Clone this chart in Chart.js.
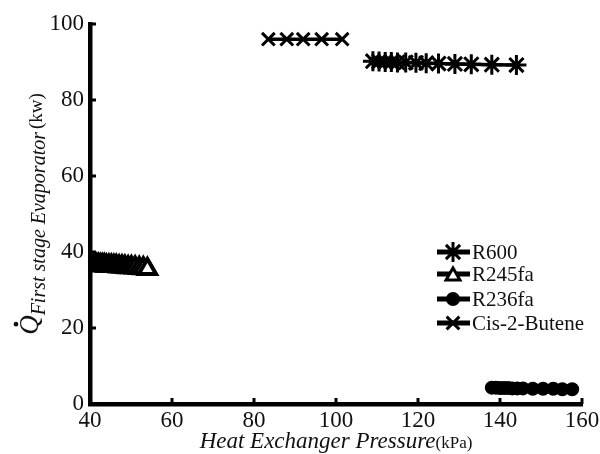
<!DOCTYPE html>
<html>
<head>
<meta charset="utf-8">
<script src="https://cdn.jsdelivr.net/npm/chart.js@4/dist/chart.umd.min.js"></script>
<style>
  html, body { margin: 0; padding: 0; background: #fff; }
  #wrap { width: 600px; height: 454px; }
</style>
</head>
<body>
<div id="wrap"><canvas id="c" width="600" height="454"></canvas></div>
<script>
const X_TICKS = [40, 60, 80, 100, 120, 140, 160];
const Y_TICKS = [0, 20, 40, 60, 80, 100];

const R600_X = [109, 110.5, 112, 113.5, 115, 117, 119.5, 122, 125, 129, 133, 138, 144];
const R600_Y = [90.2, 90.1, 90.0, 90.0, 89.9, 89.9, 89.8, 89.7, 89.6, 89.5, 89.4, 89.3, 89.2];

const R245FA_X = [41, 41.5, 42, 42.5, 43, 43.5, 44, 44.6, 45.2, 45.8, 46.4, 47.1, 47.8, 48.5, 49.3, 50.1, 51, 52, 53, 54];
const R245FA_Y = [36.6, 36.6, 36.6, 36.5, 36.5, 36.5, 36.4, 36.4, 36.4, 36.3, 36.3, 36.2, 36.2, 36.1, 36.0, 36.0, 35.9, 35.8, 35.7, 35.5];

const R236FA_X = [138, 139, 140, 141, 142, 143, 144.2, 145.6, 148, 150.5, 153, 155.2, 157.6];
const R236FA_Y = [4.3, 4.3, 4.2, 4.2, 4.2, 4.1, 4.1, 4.1, 4.0, 4.0, 4.0, 3.9, 3.9];

const CIS_X = [83.5, 88, 92, 96.5, 101.5];
const CIS_Y = [96.0, 96.0, 96.0, 96.0, 96.0];

const SERIES = [
  { label: 'R600',         xs: R600_X,   ys: R600_Y,   style: 'star',     radius: 10 },
  { label: 'R245fa',       xs: R245FA_X, ys: R245FA_Y, style: 'triangle', radius: 10 },
  { label: 'R236fa',       xs: R236FA_X, ys: R236FA_Y, style: 'circle',   radius: 5.5 },
  { label: 'Cis-2-Butene', xs: CIS_X,    ys: CIS_Y,    style: 'crossRot', radius: 9 },
];

const SERIF = '"Liberation Serif", "DejaVu Serif", serif';

// inward tick marks, axis titles and the inset legend
const decorPlugin = {
  id: 'decor',
  afterDraw(chart) {
    const { ctx, chartArea, scales } = chart;
    const xs = scales.x, ys = scales.y;
    ctx.save();
    ctx.strokeStyle = '#000';
    ctx.lineWidth = 3;
    X_TICKS.forEach(v => {
      const px = xs.getPixelForValue(v);
      ctx.beginPath();
      ctx.moveTo(px, chartArea.bottom);
      ctx.lineTo(px, chartArea.bottom - 6);
      ctx.stroke();
    });
    Y_TICKS.forEach(v => {
      const py = ys.getPixelForValue(v);
      ctx.beginPath();
      ctx.moveTo(chartArea.left, py);
      ctx.lineTo(chartArea.left + 6, py);
      ctx.stroke();
    });

    // x title: italic part + small (kPa)
    ctx.fillStyle = '#111';
    ctx.textBaseline = 'alphabetic';
    const t1 = 'Heat Exchanger Pressure';
    const t2 = '(kPa)';
    ctx.font = 'italic 23px ' + SERIF;
    const w1 = ctx.measureText(t1).width;
    ctx.font = '17px ' + SERIF;
    const w2 = ctx.measureText(t2).width;
    let sx = 336 - (w1 + w2) / 2;
    ctx.font = 'italic 23px ' + SERIF;
    ctx.fillText(t1, sx, 448);
    ctx.font = '17px ' + SERIF;
    ctx.fillText(t2, sx + w1, 448);

    // y title, rotated
    ctx.save();
    ctx.translate(38, 214);
    ctx.rotate(-Math.PI / 2);
    const q = 'Q';
    const sub = 'First stage Evaporator';
    const unit = '(kw)';
    ctx.font = 'italic 27px ' + SERIF;
    const wq = ctx.measureText(q).width;
    ctx.font = 'italic 20px ' + SERIF;
    const ws = ctx.measureText(sub).width;
    ctx.font = '19px ' + SERIF;
    const wu = ctx.measureText(unit).width;
    let p = -(wq + ws + wu + 3) / 2;
    ctx.font = 'italic 27px ' + SERIF;
    ctx.fillText(q, p, 0);
    // dot over Q
    ctx.beginPath();
    ctx.arc(p + wq * 0.55, -22, 2.3, 0, Math.PI * 2);
    ctx.fill();
    p += wq;
    ctx.font = 'italic 20px ' + SERIF;
    ctx.fillText(sub, p, 7);
    p += ws + 3;
    ctx.font = '19px ' + SERIF;
    ctx.fillText(unit, p, 4);
    ctx.restore();

    // legend
    const rows = [252, 274, 299, 323];
    SERIES.forEach((s, i) => {
      const y = rows[i];
      ctx.strokeStyle = '#000';
      ctx.lineWidth = 5;
      ctx.beginPath();
      ctx.moveTo(437, y);
      ctx.lineTo(470, y);
      ctx.stroke();
      ctx.fillStyle = s.style === 'triangle' ? '#fff' : '#000';
      ctx.lineWidth = 3;
      const r = s.style === 'triangle' ? 8 : s.radius;
      Chart.helpers.drawPoint(ctx, { pointStyle: s.style, radius: r, rotation: 0, borderWidth: 3 }, 453, s.style === 'triangle' ? y + 2 : y);
      ctx.fillStyle = '#111';
      ctx.font = '21px ' + SERIF;
      ctx.textBaseline = 'middle';
      ctx.fillText(s.label, 472, y + 1);
    });
    ctx.restore();
  },
};

new Chart(document.getElementById('c'), {
  type: 'scatter',
  data: {
    datasets: SERIES.map(s => ({
      label: s.label,
      data: s.xs.map((x, i) => ({ x, y: s.ys[i] })),
      showLine: true,
      borderColor: '#000',
      borderWidth: 3.5,
      pointStyle: s.style,
      pointRadius: s.radius,
      pointBorderWidth: s.style === 'triangle' ? 4 : 3,
      pointBorderColor: '#000',
      pointBackgroundColor: s.style === 'triangle' ? '#fff' : '#000',
    })),
  },
  options: {
    responsive: false,
    animation: false,
    layout: { padding: { top: 24, right: 18, left: 0, bottom: 0 } },
    plugins: { legend: { display: false }, tooltip: { enabled: false } },
    scales: {
      x: {
        type: 'linear',
        min: 40, max: 160,
        afterFit: s => { s.height = 50; },
        afterBuildTicks: s => { s.ticks = X_TICKS.map(v => ({ value: v })); },
        ticks: { color: '#111', font: { family: SERIF, size: 23 }, padding: -5, maxRotation: 0 },
        grid: { display: false },
        border: { display: true, color: '#000', width: 4.5 },
      },
      y: {
        type: 'linear',
        min: 0, max: 100,
        afterFit: s => { s.width = 90; },
        afterBuildTicks: s => { s.ticks = Y_TICKS.map(v => ({ value: v })); },
        ticks: { color: '#111', font: { family: SERIF, size: 23 }, padding: -2 },
        grid: { display: false },
        border: { display: true, color: '#000', width: 4.5 },
      },
    },
  },
  plugins: [decorPlugin],
});
</script>
</body>
</html>
